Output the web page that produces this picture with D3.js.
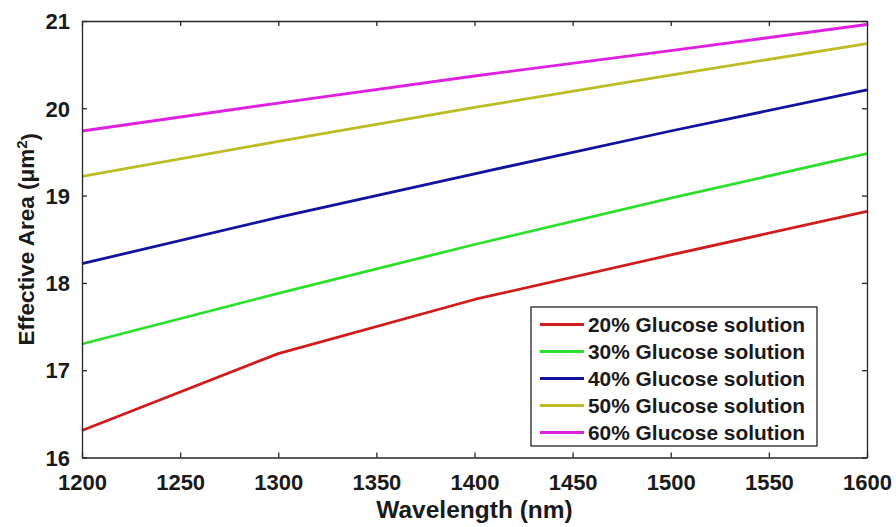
<!DOCTYPE html>
<html>
<head>
<meta charset="utf-8">
<script src="https://cdn.jsdelivr.net/npm/d3@7"></script>
<style>
  html, body { margin: 0; padding: 0; background: #fff; }
  svg { display: block; font-family: "Liberation Sans", Arial, sans-serif; font-weight: bold; }
</style>
</head>
<body>
<svg id="chart" width="896" height="527"></svg>
<script>
// ---- data ----
const wavelengths = [1200, 1300, 1400, 1500, 1600];
const seriesNames = [
  "20% Glucose solution",
  "30% Glucose solution",
  "40% Glucose solution",
  "50% Glucose solution",
  "60% Glucose solution"
];
const glucose20 = [16.31, 17.19, 17.81, 18.32, 18.82];
const glucose30 = [17.30, 17.88, 18.44, 18.97, 19.48];
const glucose40 = [18.22, 18.75, 19.25, 19.74, 20.21];
const glucose50 = [19.22, 19.62, 20.01, 20.38, 20.74];
const glucose60 = [19.74, 20.06, 20.37, 20.66, 20.96];
const seriesColors = ["#d01c1c", "#2ee02e", "#12129e", "#bcbc26", "#e020e0"];
const xTicks = [1200, 1250, 1300, 1350, 1400, 1450, 1500, 1550, 1600];
const yTicks = [16, 17, 18, 19, 20, 21];

const seriesValues = [glucose20, glucose30, glucose40, glucose50, glucose60];

(function () {
// ---- layout ----
const svg = d3.select("#chart");
const W = 896, H = 527;
const margin = { left: 82, top: 21, right: W - 867, bottom: H - 457.5 };
const x = d3.scaleLinear().domain([1200, 1600]).range([margin.left, W - margin.right]);
const y = d3.scaleLinear().domain([16, 21]).range([H - margin.bottom, margin.top]);
const axisColor = "#262626";

// lines
const line = d3.line().x(d => x(d[0])).y(d => y(d[1]));
seriesValues.forEach((vals, i) => {
  svg.append("path")
    .datum(wavelengths.map((w, j) => [w, vals[j]]))
    .attr("d", line)
    .attr("fill", "none")
    .attr("stroke", seriesColors[i])
    .attr("stroke-width", 2.8)
    .attr("stroke-linejoin", "round");
});

// axes (MATLAB style: inward ticks, full box)
const tickLen = 5;
const gBottom = svg.append("g").attr("transform", `translate(0,${y(16)})`)
  .call(d3.axisBottom(x).tickValues(xTicks).tickSizeInner(-tickLen).tickSizeOuter(0).tickPadding(17).tickFormat(d3.format("d")));
const gTop = svg.append("g").attr("transform", `translate(0,${y(21)})`)
  .call(d3.axisTop(x).tickValues(xTicks).tickSizeInner(-tickLen).tickSizeOuter(0).tickFormat(""));
const gLeft = svg.append("g").attr("transform", `translate(${x(1200)},0)`)
  .call(d3.axisLeft(y).tickValues(yTicks).tickSizeInner(-tickLen).tickSizeOuter(0).tickPadding(12).tickFormat(d3.format("d")));
const gRight = svg.append("g").attr("transform", `translate(${x(1600)},0)`)
  .call(d3.axisRight(y).tickValues(yTicks).tickSizeInner(-tickLen).tickSizeOuter(0).tickFormat(""));

[gBottom, gTop, gLeft, gRight].forEach(g => {
  g.select(".domain").attr("stroke", axisColor).attr("stroke-width", 1.3);
  g.selectAll(".tick line").attr("stroke", axisColor).attr("stroke-width", 1.3);
  g.selectAll(".tick text").attr("fill", "#1a1a1a").style("font-size", "22px")
    .style("font-family", "'Liberation Sans', Arial, sans-serif").style("font-weight", "bold");
});
gBottom.selectAll(".tick text").attr("dy", "0.71em");
gLeft.selectAll(".tick text").attr("dy", "0.35em");

// axis labels
svg.append("text")
  .attr("x", (x(1200) + x(1600)) / 2)
  .attr("y", 518)
  .attr("text-anchor", "middle")
  .attr("fill", "#1a1a1a")
  .style("font-size", "24.5px")
  .text("Wavelength (nm)");

const yl = svg.append("text")
  .attr("transform", `translate(34,${(y(16) + y(21)) / 2}) rotate(-90)`)
  .attr("text-anchor", "middle")
  .attr("fill", "#1a1a1a")
  .style("font-size", "22.5px");
yl.append("tspan").text("Effective Area (\u03bcm");
yl.append("tspan").attr("dy", "-0.45em").style("font-size", "15px").text("2");
yl.append("tspan").attr("dy", "0.45em").text(")");

// legend
const lg = svg.append("g");
lg.append("rect")
  .attr("x", 531).attr("y", 307).attr("width", 286).attr("height", 139)
  .attr("fill", "#fff").attr("stroke", axisColor).attr("stroke-width", 1.3);
seriesNames.forEach((name, i) => {
  const cy = 324.5 + i * 27;
  lg.append("line")
    .attr("x1", 540).attr("x2", 584).attr("y1", cy).attr("y2", cy)
    .attr("stroke", seriesColors[i]).attr("stroke-width", 2.8);
  lg.append("text")
    .attr("x", 588).attr("y", cy).attr("dy", "0.36em")
    .attr("fill", "#1a1a1a")
    .attr("textLength", 217).attr("lengthAdjust", "spacingAndGlyphs")
    .style("font-size", "19.5px")
    .text(name);
});
})();
</script>
</body>
</html>
